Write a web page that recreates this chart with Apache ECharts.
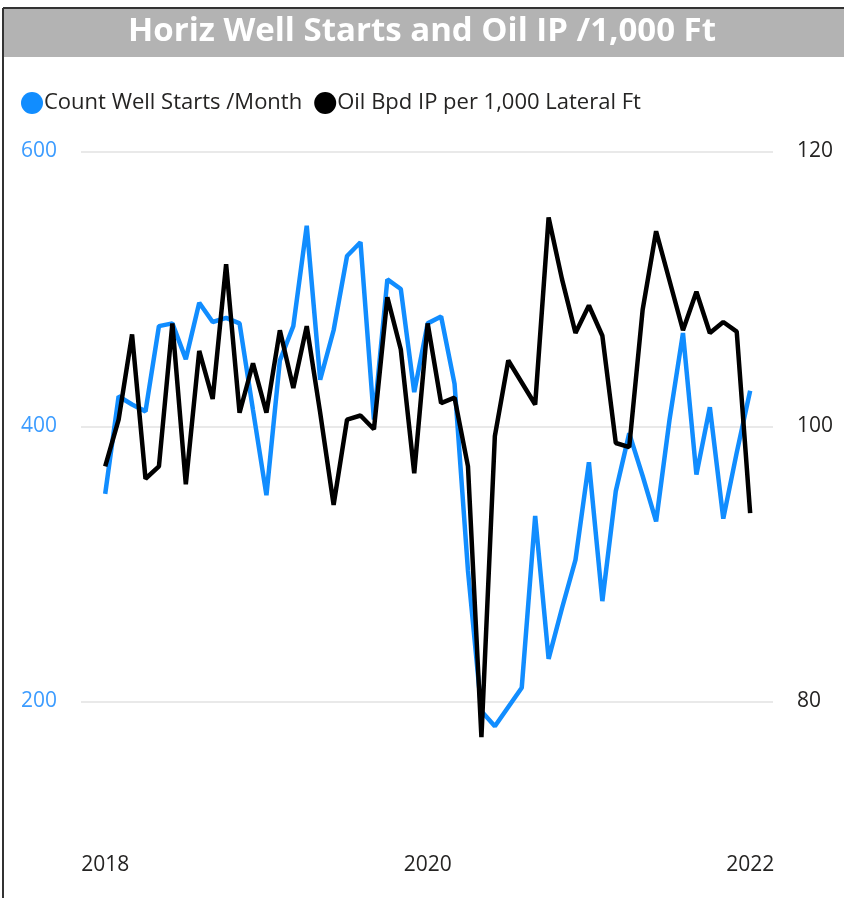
<!DOCTYPE html>
<html>
<head>
<meta charset="utf-8">
<title>Horiz Well Starts and Oil IP</title>
<script src="https://cdn.jsdelivr.net/npm/echarts@6/dist/echarts.min.js"></script>
<style>
  html, body { margin: 0; padding: 0; background: #fff; }
  #chart { width: 844px; height: 898px; }
</style>
</head>
<body>
<div id="chart"></div>
<script>
// monthly, Jan 2018 .. Jan 2022
var months = [];
for (var y = 2018; y <= 2022; y++) {
    for (var m = 1; m <= 12; m++) {
        if (y === 2022 && m > 1) break;
        months.push(y + '-' + (m < 10 ? '0' + m : m));
    }
}

var wellStarts = [
    351, 422, 416, 411, 473, 475, 449, 490, 476, 479, 475, 412,
    350, 448, 473, 546, 434, 470, 524, 534, 405, 507, 500, 425,
    475, 480, 431, 295, 193, 182, 196, 210, 335, 231, 268, 303,
    374, 273, 353, 395, 364, 331, 405, 468, 365, 414, 333, 381,
    426
];

var oilIP = [
    97.1, 100.5, 106.7, 96.2, 97.1, 107.5, 95.8, 105.5, 102.0, 111.8, 101.0, 104.6,
    101.0, 107.0, 102.8, 107.3, 101.0, 94.3, 100.5, 100.8, 99.8, 109.4, 105.6, 96.6,
    107.5, 101.7, 102.1, 97.1, 77.4, 99.3, 104.8, 103.2, 101.6, 115.2, 110.7, 106.8,
    108.8, 106.6, 98.8, 98.5, 108.5, 114.2, 110.6, 107.0, 109.8, 106.8, 107.6, 106.9,
    93.7
];

var yearTicks = [0, 24, 48];
var yearLabels = ['2018', '2020', '2022'];

var font = 'Open Sans';

var option = {
    animation: false,
    textStyle: { fontFamily: font },
    title: {
        text: 'Horiz Well Starts and Oil IP /1,000 Ft',
        left: 'center',
        top: 10,
        textStyle: { color: '#fff', fontSize: 33, fontWeight: 'bold', fontFamily: font }
    },
    graphic: [
        { type: 'rect', z: -1, shape: { x: 4, y: 9, width: 840, height: 48 }, style: { fill: '#b3b3b3' } },
        { type: 'line', shape: { x1: 3, y1: 8, x2: 844, y2: 8 }, style: { stroke: '#333', lineWidth: 2 } },
        { type: 'line', shape: { x1: 3, y1: 8, x2: 3, y2: 898 }, style: { stroke: '#333', lineWidth: 2 } }
    ],
    legend: {
        left: 16,
        top: 87,
        icon: 'circle',
        itemWidth: 22,
        itemHeight: 22,
        itemGap: 12,
        textStyle: { fontSize: 22, color: '#252423', padding: [0, 0, 0, -4] },
        data: ['Count Well Starts /Month', 'Oil Bpd IP per 1,000 Lateral Ft']
    },
    grid: {
        left: 81,
        right: 71,
        top: 151.5,
        bottom: 59
    },
    xAxis: {
        type: 'value',
        min: -1.8,
        max: 49.7,
        axisLine: { show: false },
        axisTick: { show: false },
        splitLine: { show: false },
        axisLabel: {
            customValues: yearTicks,
            fontSize: 21,
            color: '#252423',
            margin: 16,
            formatter: function (v) {
                var i = yearTicks.indexOf(Math.round(v));
                return i >= 0 ? yearLabels[i] : '';
            }
        }
    },
    yAxis: [
        {
            type: 'value',
            min: 100,
            max: 600,
            interval: 100,
            axisLine: { show: false },
            axisTick: { show: false },
            axisLabel: {
                fontSize: 21,
                color: '#3c9cff',
                margin: 24,
                formatter: function (v) { return v % 200 === 0 ? v : ''; }
            },
            splitLine: { lineStyle: { color: ['rgba(0,0,0,0)', '#e9e9e9'], width: 2 } }
        },
        {
            type: 'value',
            min: 70,
            max: 120,
            interval: 10,
            axisLine: { show: false },
            axisTick: { show: false },
            axisLabel: {
                fontSize: 21,
                color: '#252423',
                margin: 24,
                formatter: function (v) { return v % 20 === 0 ? v : ''; }
            },
            splitLine: { show: false }
        }
    ],
    series: [
        {
            name: 'Count Well Starts /Month',
            type: 'line',
            yAxisIndex: 0,
            symbol: 'none',
            color: '#118dff',
            lineStyle: { width: 4.5, color: '#118dff' },
            data: wellStarts.map(function (v, i) { return [i, v]; })
        },
        {
            name: 'Oil Bpd IP per 1,000 Lateral Ft',
            type: 'line',
            yAxisIndex: 1,
            symbol: 'none',
            color: '#000',
            lineStyle: { width: 4.5, color: '#000' },
            data: oilIP.map(function (v, i) { return [i, v]; })
        }
    ]
};

var chart = echarts.init(document.getElementById('chart'));
chart.setOption(option);
</script>
</body>
</html>
